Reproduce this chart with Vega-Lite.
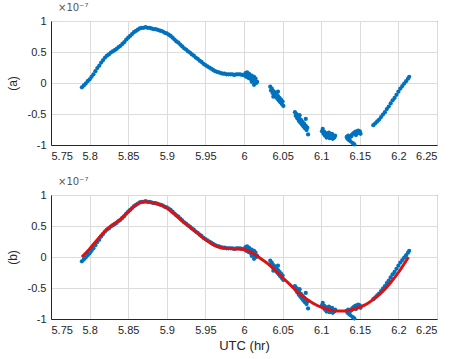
{
 "$schema": "https://vega.github.io/schema/vega-lite/v6.json",
 "padding": {"left": 5, "top": 2, "right": 6, "bottom": 2},
 "background": "white",
 "spacing": 14,
 "config": {
   "font": "Liberation Sans",
   "view": {"stroke": "#262626", "strokeWidth": 1},
   "axis": {"grid": true, "gridColor": "#dcdcdc", "domainColor": "#262626", "ticks": false, "labelColor": "#262626", "labelFontSize": 11, "titleColor": "#262626", "titleFontWeight": "normal", "titleFontSize": 12, "labelPadding": 5}
 },
 "datasets": {
  "pts": [
   {"x":5.79,"y":-0.07},{"x":5.7925,"y":-0.04},{"x":5.795,"y":-0.01},{"x":5.7975,"y":0.03},{"x":5.8,"y":0.06},{"x":5.8025,"y":0.1},{"x":5.805,"y":0.14},{"x":5.8075,"y":0.19},{"x":5.81,"y":0.24},{"x":5.8125,"y":0.28},{"x":5.815,"y":0.33},{"x":5.8175,"y":0.37},{"x":5.82,"y":0.41},{"x":5.8225,"y":0.44},{"x":5.825,"y":0.46},{"x":5.8275,"y":0.49},{"x":5.83,"y":0.51},{"x":5.8325,"y":0.53},{"x":5.835,"y":0.55},{"x":5.8375,"y":0.58},{"x":5.84,"y":0.6},{"x":5.8425,"y":0.63},{"x":5.845,"y":0.66},{"x":5.8475,"y":0.7},{"x":5.85,"y":0.73},{"x":5.8525,"y":0.76},{"x":5.855,"y":0.79},{"x":5.8575,"y":0.82},{"x":5.86,"y":0.84},{"x":5.8625,"y":0.86},{"x":5.865,"y":0.88},{"x":5.8675,"y":0.89},{"x":5.87,"y":0.89},{"x":5.8725,"y":0.9},{"x":5.875,"y":0.89},{"x":5.8775,"y":0.89},{"x":5.88,"y":0.88},{"x":5.8825,"y":0.87},{"x":5.885,"y":0.87},{"x":5.8875,"y":0.86},{"x":5.89,"y":0.85},{"x":5.8925,"y":0.84},{"x":5.895,"y":0.83},{"x":5.8975,"y":0.81},{"x":5.9,"y":0.8},{"x":5.9025,"y":0.78},{"x":5.905,"y":0.76},{"x":5.9075,"y":0.73},{"x":5.91,"y":0.7},{"x":5.9125,"y":0.67},{"x":5.915,"y":0.65},{"x":5.9175,"y":0.62},{"x":5.92,"y":0.59},{"x":5.9225,"y":0.56},{"x":5.925,"y":0.54},{"x":5.9275,"y":0.51},{"x":5.93,"y":0.49},{"x":5.9325,"y":0.46},{"x":5.935,"y":0.44},{"x":5.9375,"y":0.41},{"x":5.94,"y":0.39},{"x":5.9425,"y":0.36},{"x":5.945,"y":0.34},{"x":5.9475,"y":0.31},{"x":5.95,"y":0.29},{"x":5.9525,"y":0.27},{"x":5.955,"y":0.25},{"x":5.9575,"y":0.23},{"x":5.96,"y":0.21},{"x":5.9625,"y":0.19},{"x":5.965,"y":0.18},{"x":5.9675,"y":0.17},{"x":5.97,"y":0.16},{"x":5.9725,"y":0.15},{"x":5.975,"y":0.15},{"x":5.9775,"y":0.14},{"x":5.98,"y":0.14},{"x":5.9825,"y":0.14},{"x":5.985,"y":0.14},{"x":5.9875,"y":0.13},{"x":5.99,"y":0.14},{"x":5.9925,"y":0.14},{"x":5.995,"y":0.14},{"x":5.9975,"y":0.13},{"x":6.0,"y":0.13},
   {"x":6.001,"y":0.12},{"x":6.002,"y":0.16},{"x":6.003,"y":0.1},{"x":6.004,"y":0.17},{"x":6.005,"y":0.13},{"x":6.006,"y":0.08},{"x":6.007,"y":0.14},{"x":6.008,"y":0.11},{"x":6.009,"y":0.06},{"x":6.01,"y":0.12},{"x":6.011,"y":0.09},{"x":6.012,"y":0.04},{"x":6.013,"y":0.1},{"x":6.014,"y":0.03},{"x":6.015,"y":0.07},{"x":6.016,"y":0.0},{"x":6.017,"y":0.02},{"x":6.013,"y":-0.03},{"x":6.006,"y":0.15},{"x":6.01,"y":0.02},
   {"x":6.034,"y":-0.06},{"x":6.035,"y":-0.12},{"x":6.036,"y":-0.09},{"x":6.037,"y":-0.16},{"x":6.038,"y":-0.13},{"x":6.039,"y":-0.19},{"x":6.04,"y":-0.15},{"x":6.041,"y":-0.22},{"x":6.042,"y":-0.18},{"x":6.043,"y":-0.25},{"x":6.044,"y":-0.21},{"x":6.045,"y":-0.28},{"x":6.046,"y":-0.24},{"x":6.047,"y":-0.31},{"x":6.048,"y":-0.27},{"x":6.049,"y":-0.34},{"x":6.05,"y":-0.3},{"x":6.051,"y":-0.37},{"x":6.038,"y":-0.22},{"x":6.044,"y":-0.14},
   {"x":6.066,"y":-0.47},{"x":6.067,"y":-0.53},{"x":6.068,"y":-0.5},{"x":6.069,"y":-0.57},{"x":6.07,"y":-0.54},{"x":6.071,"y":-0.61},{"x":6.072,"y":-0.58},{"x":6.073,"y":-0.64},{"x":6.074,"y":-0.6},{"x":6.075,"y":-0.67},{"x":6.076,"y":-0.63},{"x":6.077,"y":-0.7},{"x":6.078,"y":-0.66},{"x":6.079,"y":-0.73},{"x":6.08,"y":-0.69},{"x":6.081,"y":-0.76},{"x":6.082,"y":-0.72},{"x":6.083,"y":-0.83},{"x":6.072,"y":-0.52},{"x":6.08,"y":-0.58},
   {"x":6.101,"y":-0.78},{"x":6.102,"y":-0.74},{"x":6.103,"y":-0.82},{"x":6.104,"y":-0.79},{"x":6.105,"y":-0.85},{"x":6.106,"y":-0.81},{"x":6.107,"y":-0.88},{"x":6.108,"y":-0.83},{"x":6.109,"y":-0.86},{"x":6.11,"y":-0.8},{"x":6.111,"y":-0.89},{"x":6.112,"y":-0.84},{"x":6.113,"y":-0.87},{"x":6.114,"y":-0.82},{"x":6.115,"y":-0.9},{"x":6.116,"y":-0.86},{"x":6.117,"y":-0.88},{"x":6.118,"y":-0.85},
   {"x":6.133,"y":-0.87},{"x":6.134,"y":-0.9},{"x":6.135,"y":-0.85},{"x":6.136,"y":-0.92},{"x":6.137,"y":-0.88},{"x":6.138,"y":-0.94},{"x":6.139,"y":-0.86},{"x":6.14,"y":-0.83},{"x":6.141,"y":-0.97},{"x":6.142,"y":-0.81},{"x":6.143,"y":-0.99},{"x":6.144,"y":-0.79},{"x":6.145,"y":-0.84},{"x":6.146,"y":-0.78},{"x":6.147,"y":-0.81},{"x":6.148,"y":-0.77},{"x":6.149,"y":-0.8},{"x":6.15,"y":-0.78},{"x":6.151,"y":-0.82},
   {"x":6.1675,"y":-0.68},{"x":6.17,"y":-0.65},{"x":6.1725,"y":-0.62},{"x":6.175,"y":-0.59},{"x":6.1775,"y":-0.55},{"x":6.18,"y":-0.51},{"x":6.1825,"y":-0.47},{"x":6.185,"y":-0.42},{"x":6.1875,"y":-0.38},{"x":6.19,"y":-0.33},{"x":6.1925,"y":-0.28},{"x":6.195,"y":-0.24},{"x":6.1975,"y":-0.19},{"x":6.2,"y":-0.14},{"x":6.2025,"y":-0.09},{"x":6.205,"y":-0.05},{"x":6.2075,"y":-0.01},{"x":6.21,"y":0.03},{"x":6.2125,"y":0.07},{"x":6.214,"y":0.1}
  ],
  "fit": [
   {"x":5.79,"y":0.0},{"x":5.8,"y":0.13},{"x":5.81,"y":0.28},{"x":5.82,"y":0.42},{"x":5.83,"y":0.52},{"x":5.84,"y":0.61},{"x":5.85,"y":0.73},{"x":5.86,"y":0.84},{"x":5.87,"y":0.89},{"x":5.88,"y":0.88},{"x":5.89,"y":0.85},{"x":5.9,"y":0.79},{"x":5.91,"y":0.69},{"x":5.92,"y":0.58},{"x":5.93,"y":0.48},{"x":5.94,"y":0.38},{"x":5.95,"y":0.28},{"x":5.96,"y":0.2},{"x":5.97,"y":0.15},{"x":5.98,"y":0.14},{"x":5.99,"y":0.13},{"x":6.0,"y":0.12},{"x":6.01,"y":0.07},{"x":6.02,"y":-0.01},{"x":6.03,"y":-0.1},{"x":6.04,"y":-0.21},{"x":6.05,"y":-0.33},{"x":6.06,"y":-0.45},{"x":6.07,"y":-0.57},{"x":6.08,"y":-0.67},{"x":6.09,"y":-0.75},{"x":6.1,"y":-0.81},{"x":6.11,"y":-0.85},{"x":6.12,"y":-0.87},{"x":6.13,"y":-0.87},{"x":6.14,"y":-0.85},{"x":6.15,"y":-0.81},{"x":6.16,"y":-0.75},{"x":6.17,"y":-0.66},{"x":6.18,"y":-0.55},{"x":6.19,"y":-0.41},{"x":6.2,"y":-0.25},{"x":6.21,"y":-0.06},{"x":6.213,"y":0.0}
  ]
 },
 "vconcat": [
  {
   "width": 386, "height": 124,
   "title": {"text": "×10⁻⁷", "anchor": "start", "frame": "group", "font": "DejaVu Sans", "fontSize": 10, "fontWeight": "normal", "color": "#555555", "offset": 2, "dx": 7},
   "data": {"name": "pts"},
   "mark": {"type": "circle", "size": 18, "opacity": 1, "color": "#0072BD"},
   "encoding": {
    "x": {"field": "x", "type": "quantitative", "scale": {"domain": [5.75, 6.25], "nice": false, "zero": false}, "axis": {"values": [5.75,5.8,5.85,5.9,5.95,6,6.05,6.1,6.15,6.2,6.25], "format": ".2~f", "title": null}},
    "y": {"field": "y", "type": "quantitative", "scale": {"domain": [-1, 1], "nice": false}, "axis": {"values": [-1,-0.5,0,0.5,1], "labelExpr": "replace(format(datum.value, '.1~f'), '−', '-')", "title": "(a)", "titlePadding": 8}}
   }
  },
  {
   "width": 386, "height": 124,
   "title": {"text": "×10⁻⁷", "anchor": "start", "frame": "group", "font": "DejaVu Sans", "fontSize": 10, "fontWeight": "normal", "color": "#555555", "offset": 2, "dx": 7},
   "encoding": {
    "x": {"field": "x", "type": "quantitative", "scale": {"domain": [5.75, 6.25], "nice": false, "zero": false}, "axis": {"values": [5.75,5.8,5.85,5.9,5.95,6,6.05,6.1,6.15,6.2,6.25], "format": ".2~f", "title": "UTC (hr)", "titleFontSize": 13, "titlePadding": 4}},
    "y": {"field": "y", "type": "quantitative", "scale": {"domain": [-1, 1], "nice": false}, "axis": {"values": [-1,-0.5,0,0.5,1], "labelExpr": "replace(format(datum.value, '.1~f'), '−', '-')", "title": "(b)", "titlePadding": 8}}
   },
   "layer": [
    {"data": {"name": "pts"}, "mark": {"type": "circle", "size": 18, "opacity": 1, "color": "#0072BD"}},
    {"data": {"name": "fit"}, "mark": {"type": "line", "color": "#DD1111", "strokeWidth": 3, "interpolate": "monotone"}}
   ]
  }
 ]
}
